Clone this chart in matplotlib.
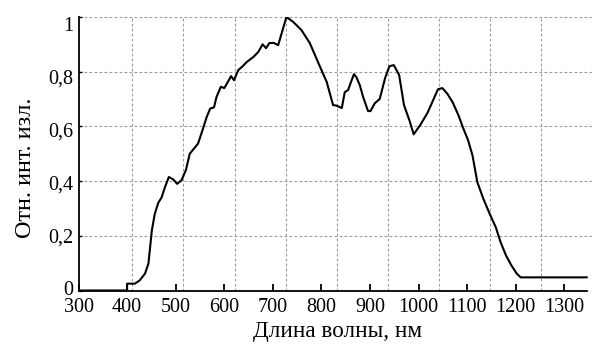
import matplotlib

matplotlib.use("Agg")

import matplotlib.pyplot as plt
import numpy as np
from matplotlib.ticker import FixedLocator, FixedFormatter, NullFormatter

# wavelength, nm
wavelength = [300, 400, 400, 416, 426, 437, 444, 451, 457, 464, 471, 478, 486, 495,
              503, 512, 521, 529, 540, 546, 553, 564, 571, 579, 584, 593, 600, 606,
              614, 620, 629, 638, 646, 660, 670, 679, 686, 693, 702, 711, 728, 742,
              759, 776, 793, 811, 824, 831, 842, 848, 855, 860, 867, 872, 879, 886,
              896, 901, 910, 920, 931, 940, 949, 960, 970, 981, 990, 1003, 1018, 1030,
              1040, 1049, 1059, 1070, 1082, 1092, 1102, 1111, 1121, 1133, 1145, 1159,
              1169, 1180, 1191, 1202, 1210, 1346]

# relative intensity
intensity = [0, 0, 0.025, 0.025, 0.037, 0.062, 0.099, 0.22, 0.28, 0.32, 0.34, 0.378,
             0.415, 0.406, 0.39, 0.403, 0.44, 0.50, 0.524, 0.537, 0.574, 0.635, 0.665,
             0.67, 0.707, 0.745, 0.74, 0.758, 0.784, 0.769, 0.806, 0.82, 0.835, 0.854,
             0.872, 0.90, 0.886, 0.905, 0.905, 0.897, 1.0, 0.982, 0.952, 0.905, 0.835,
             0.762, 0.678, 0.676, 0.667, 0.725, 0.733, 0.758, 0.791, 0.78, 0.751, 0.707,
             0.656, 0.656, 0.685, 0.70, 0.776, 0.82, 0.824, 0.788, 0.678, 0.623, 0.571,
             0.604, 0.648, 0.696, 0.736, 0.74, 0.72, 0.689, 0.641, 0.593, 0.549, 0.494,
             0.396, 0.337, 0.286, 0.231, 0.176, 0.128, 0.092, 0.062, 0.048, 0.048]

x_ticks = [300, 400, 500, 600, 700, 800, 900, 1000, 1100, 1200, 1300]
y_ticks = [0, 0.2, 0.4, 0.6, 0.8, 1.0]
y_tick_labels = ["0", "0,2", "0,4", "0,6", "0,8", "1"]

plt.rcParams["font.family"] = ["Liberation Serif", "DejaVu Serif"]

fig = plt.figure(figsize=(6.11, 3.45), dpi=100)
ax = fig.add_axes([78.5 / 611, 1 - 290.5 / 345, (592 - 78.5) / 611, 273.5 / 345])

ax.plot(wavelength, intensity, color="black", linewidth=1.5, solid_joinstyle="round")

ax.set_xlim(300, 1357)
ax.set_ylim(0, 1)

# in the scanned original the dashed grid and the labels don't line up with the ticks
grid_x = 411 + 105.1 * np.arange(10)
ax.xaxis.set_minor_locator(FixedLocator(grid_x))
ax.xaxis.set_minor_formatter(NullFormatter())
ax.set_xticks(x_ticks)
ax.set_xticklabels([str(t) for t in x_ticks])

ylabel_pos = 0.009 + 0.193 * np.arange(len(y_ticks))
ax.set_yticks(y_ticks)
ax.yaxis.set_major_formatter(NullFormatter())
ax.yaxis.set_minor_locator(FixedLocator(ylabel_pos))
ax.yaxis.set_minor_formatter(FixedFormatter(y_tick_labels))

ax.grid(False)
ax.grid(True, which="minor", axis="x", color="#9a9a9a", linestyle=(0, (2.5, 2)), linewidth=0.8)
ax.grid(True, which="major", axis="y", color="#9a9a9a", linestyle=(0, (2.5, 2)), linewidth=0.8)

ax.tick_params(axis="x", which="major", direction="in", length=5, width=1.3, pad=5.5, labelsize=14.5)
ax.tick_params(axis="x", which="minor", length=0)
ax.tick_params(axis="y", which="major", direction="in", length=2.5, width=1)
ax.tick_params(axis="y", which="minor", length=0, pad=4, labelsize=14.5)

ax.spines["top"].set_visible(False)
ax.spines["right"].set_visible(False)
ax.spines["left"].set_linewidth(1.3)
ax.spines["bottom"].set_linewidth(1.3)
ax.spines["bottom"].set_bounds(300, 1346)

ax.set_xlabel("Длина волны, нм", fontsize=16.7)
ax.xaxis.label.set_va("center")
ax.xaxis.set_label_coords((337.5 - 78.5) / (592 - 78.5), (290.5 - 331) / 273.5)
ax.set_ylabel("Отн. инт. изл.", fontsize=17.5)
ax.yaxis.label.set_va("center")
ax.yaxis.set_label_coords((26 - 78.5) / (592 - 78.5), (290.5 - 168) / 273.5)

fig.savefig("out.png", dpi=100)
plt.close(fig)
